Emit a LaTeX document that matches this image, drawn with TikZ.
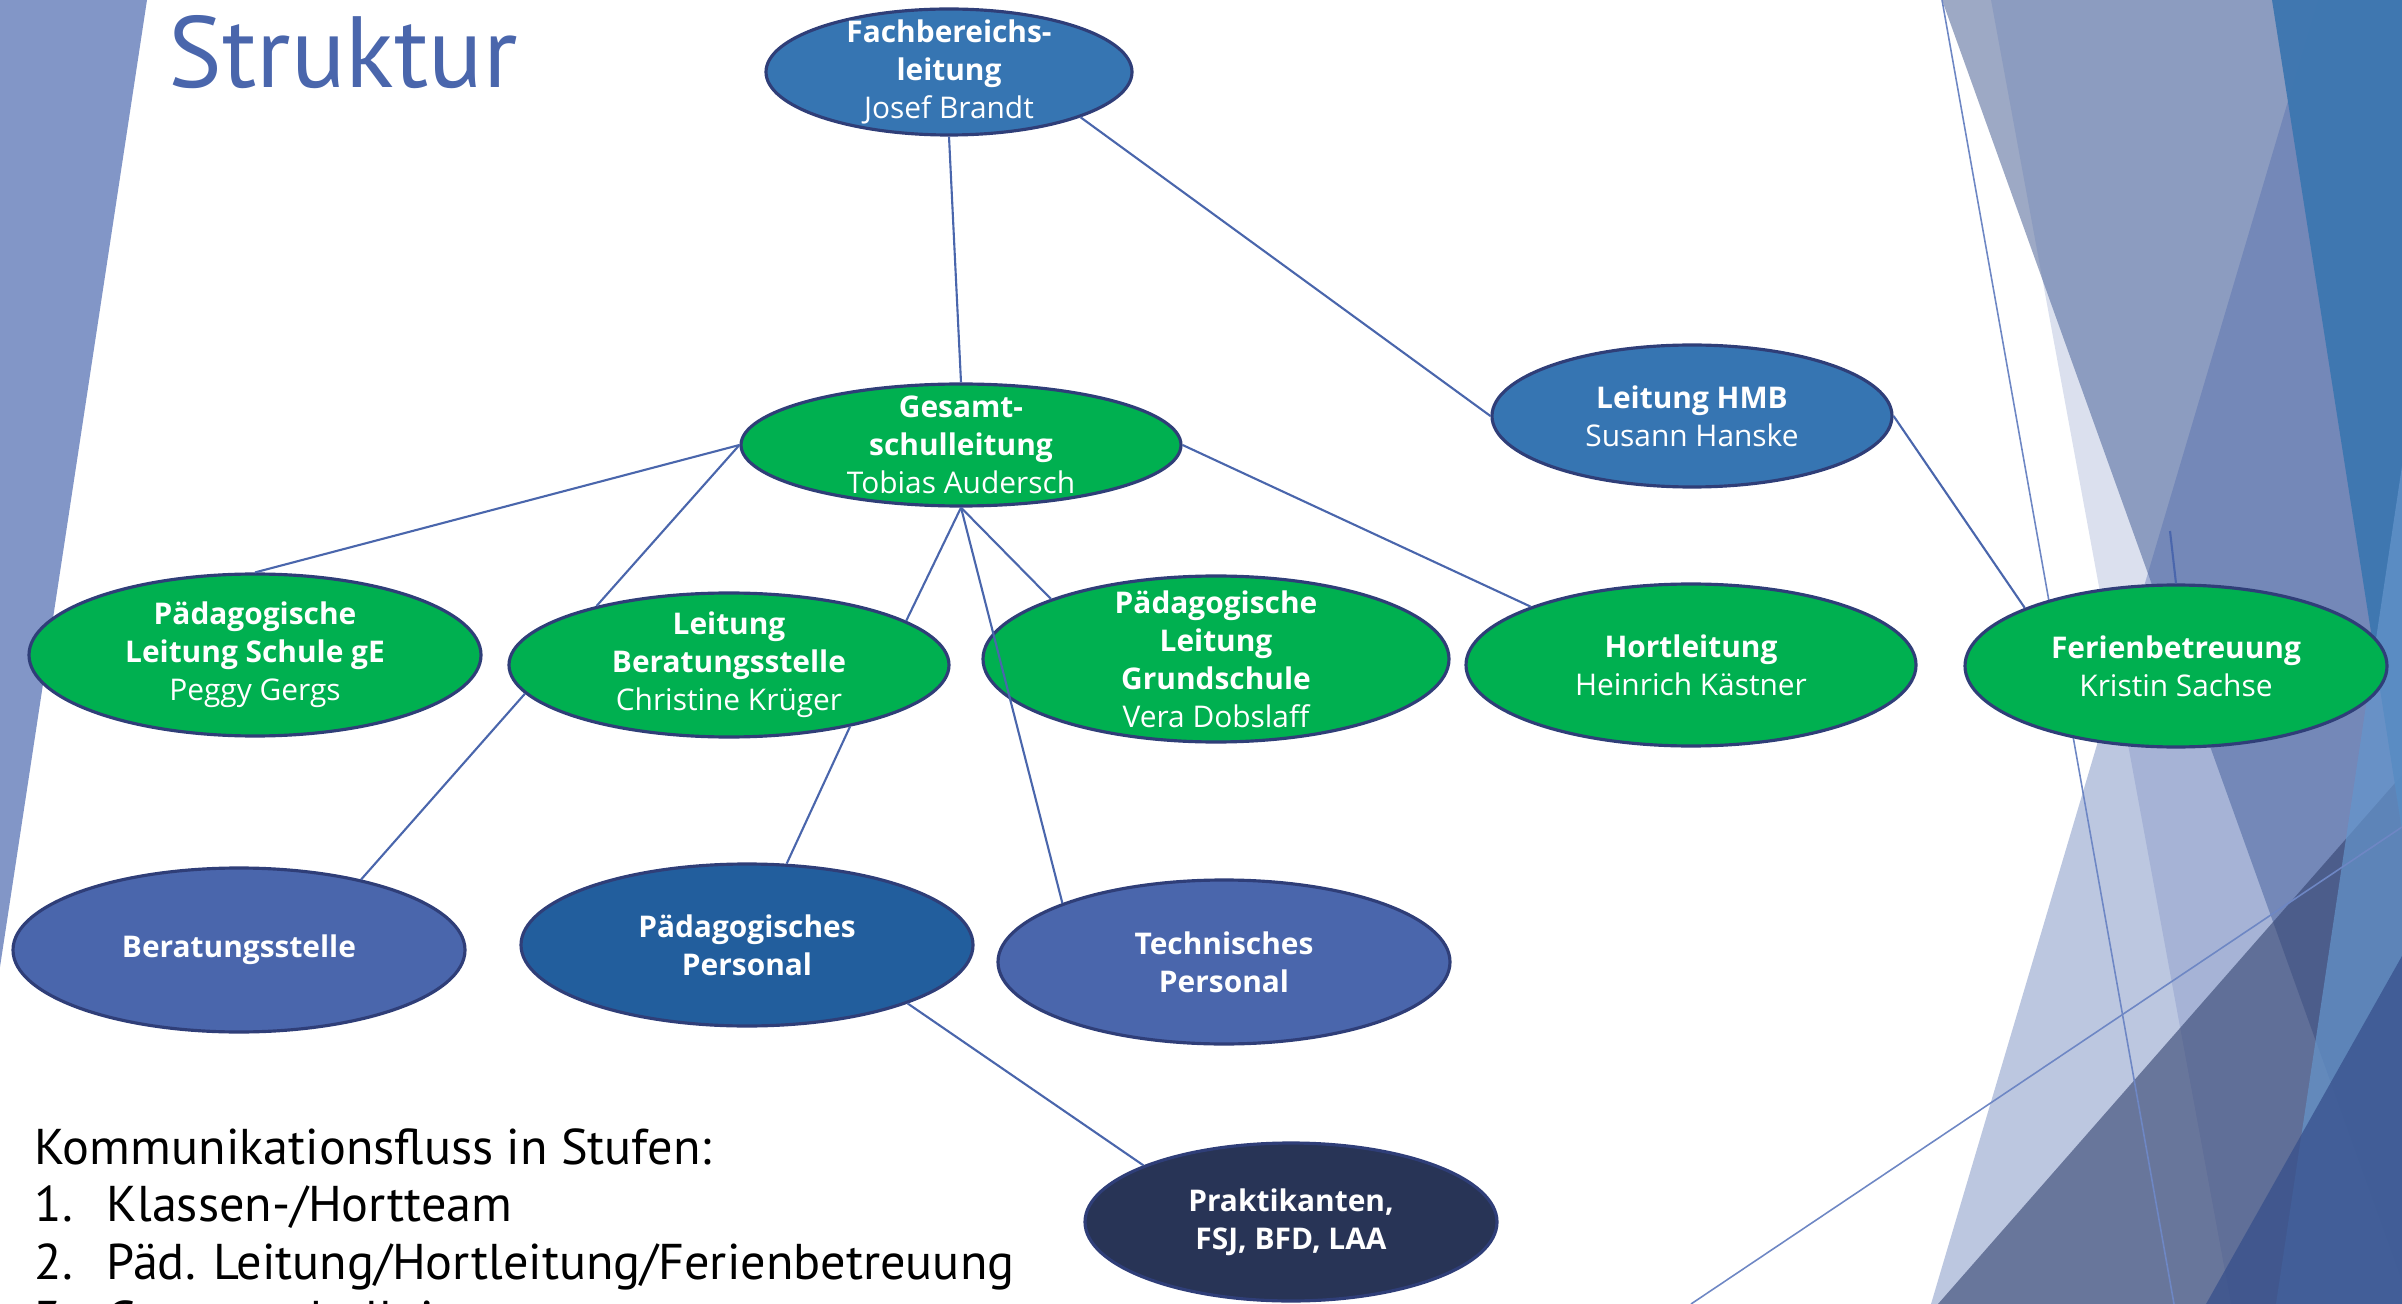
\documentclass[tikz,border=0pt]{standalone}
\usepackage{fontspec}
\setmainfont{Open Sans}
\newfontfamily\slidefont{PT Sans}
\usetikzlibrary{shapes.geometric,positioning}
\tikzset{>=stealth}

\definecolor{rim}{RGB}{47,62,120}
\definecolor{wire}{RGB}{74,102,172}
\definecolor{headblue}{RGB}{54,117,178}
\definecolor{leadgreen}{RGB}{0,176,80}
\definecolor{teamblue}{RGB}{74,102,172}
\definecolor{staffblue}{RGB}{34,94,157}
\definecolor{internnavy}{RGB}{40,52,86}
\definecolor{sidebar}{RGB}{130,150,199}
\definecolor{facetline}{RGB}{110,135,196}
\definecolor{facetgrey}{RGB}{92,112,158}
\definecolor{facetsteel}{RGB}{61,118,176}
\definecolor{facetlight}{RGB}{101,150,204}
\definecolor{facetdark}{RGB}{50,65,110}
\definecolor{facetdeep}{RGB}{55,80,140}

\tikzset{
  unit/.style={ellipse, draw=rim, line width=0.9pt, inner sep=0pt},
  head/.style={unit, fill=headblue},
  lead/.style={unit, fill=leadgreen},
  team/.style={unit, fill=teamblue},
  unittext/.style={text=white, align=center,
    font=\fontsize{8.5}{10.8}\selectfont},
  link/.style={draw=wire, line width=0.6pt},
  flowtext/.style={font=\slidefont\fontsize{14.3}{16}\selectfont, inner sep=0pt},
}

\begin{document}
\begin{tikzpicture}[x=0.1mm, y=-0.1mm]
  \useasboundingbox (0,0) rectangle (2402,1304);
  \clip (0,0) rectangle (2402,1304);

  % slide background
  \fill[sidebar] (0,0) -- (147,0) -- (0,967) -- cycle;
  \fill[facetgrey, fill opacity=0.6] (1942,0) -- (2402,0) -- (2402,1281) -- cycle;
  \fill[teamblue, fill opacity=0.2] (1991,0) -- (2402,0) -- (2402,1304) -- (2231,1304) -- cycle;
  \fill[teamblue, fill opacity=0.37] (2318,0) -- (2402,0) -- (2402,1304) -- (1931,1304) -- cycle;
  \fill[facetdark, fill opacity=0.6] (1938,1304) -- (2402,775) -- (2402,1304) -- cycle;
  \fill[facetsteel, fill opacity=0.95] (2272,0) -- (2402,0) -- (2402,830) -- cycle;
  \fill[facetlight, fill opacity=0.7] (2402,466) -- (2402,1304) -- (2276,1304) -- cycle;
  \fill[facetdeep, fill opacity=0.75] (2206,1304) -- (2402,956) -- (2402,1304) -- cycle;
  \draw[facetline, line width=0.45pt] (1942,0) -- (2174,1304);
  \draw[facetline, line width=0.45pt] (1691,1304) -- (2402,827);

  \node[anchor=base west, inner sep=0pt, text=teamblue,
    font=\slidefont\fontsize{28.8}{34}\selectfont] (title) at (168,88) {Struktur};

  % top
  \node[head, minimum width=36.6mm, minimum height=12.6mm,
    label={[unittext]center:{\textbf{Fachbereichs-}\\\textbf{leitung}\\Josef Brandt}}
  ] (fach) at (949,72) {};
  \node[lead, minimum width=44mm, minimum height=12.2mm,
    label={[unittext]center:{\textbf{Gesamt-}\\\textbf{schulleitung}\\Tobias Audersch}}
  ] (gesamt) at (961,445) {};
  \node[head, minimum width=40mm, minimum height=14.2mm,
    label={[unittext]center:{\textbf{Leitung HMB}\\Susann Hanske}}
  ] (hmb) at (1692,416) {};

  % leaders
  \node[lead, minimum width=45.2mm, minimum height=16.2mm,
    label={[unittext]center:{\textbf{Pädagogische}\\\textbf{Leitung Schule gE}\\Peggy Gergs}}
  ] (schule) at (255,655) {};
  \node[lead, minimum width=44mm, minimum height=14.4mm,
    label={[unittext]center:{\textbf{Leitung}\\\textbf{Beratungsstelle}\\Christine Krüger}}
  ] (beratleit) at (729,665) {};
  \node[lead, minimum width=46.6mm, minimum height=16.6mm,
    label={[unittext]center:{\textbf{Pädagogische}\\\textbf{Leitung}\\\textbf{Grundschule}\\Vera Dobslaff}}
  ] (grund) at (1216,659) {};
  \node[lead, minimum width=45mm, minimum height=16.2mm,
    label={[unittext]center:{\textbf{Hortleitung}\\Heinrich Kästner}}
  ] (hort) at (1691,665) {};
  \node[lead, minimum width=42.2mm, minimum height=16.2mm,
    label={[unittext]center:{\textbf{Ferienbetreuung}\\Kristin Sachse}}
  ] (ferien) at (2176,666) {};

  % staff
  \node[team, minimum width=45.2mm, minimum height=16.4mm,
    label={[unittext]center:{\textbf{Beratungsstelle}}}
  ] (beratung) at (239,950) {};
  \node[unit, fill=staffblue, minimum width=45.2mm, minimum height=16.2mm,
    label={[unittext]center:{\textbf{Pädagogisches}\\\textbf{Personal}}}
  ] (paedpers) at (747,945) {};
  \node[team, minimum width=45.2mm, minimum height=16.4mm,
    label={[unittext]center:{\textbf{Technisches}\\\textbf{Personal}}}
  ] (technik) at (1224,962) {};
  \node[unit, fill=internnavy, minimum width=41.2mm, minimum height=15.8mm,
    label={[unittext]center:{\textbf{Praktikanten,}\\\textbf{FSJ, BFD, LAA}}}
  ] (praktikum) at (1291,1222) {};

  \coordinate (stub) at (2170,531);

  \draw[link] (fach.south) -- (gesamt.north);
  \draw[link] (fach.-19) -- (hmb.west);
  \draw[link] (hmb.east) -- (ferien.159);
  \draw[link] (stub) -- (ferien.north);
  \draw[link] (gesamt.west) -- (schule.north);
  \draw[link] (gesamt.west) -- (beratleit.156);
  \draw[link] (gesamt.south) -- (beratleit.14);
  \draw[link] (gesamt.south) -- (grund.160);
  \draw[link] (gesamt.south) -- (technik.160);
  \draw[link] (gesamt.east) -- (hort.160);
  \draw[link] (beratleit.188) -- (beratung.30);
  \draw[link] (beratleit.333) -- (paedpers.64);
  \draw[link] (paedpers.-20) -- (praktikum.159);

  % stages
  \node[flowtext, anchor=base west] (flow) at (34,1164) {Kommunikationsfluss in Stufen:};
  \node[flowtext, below=5.75mm of flow.base west, anchor=base west] (stage1)
    {\makebox[7.2mm][l]{1.}Klassen-/Hortteam};
  \node[flowtext, below=5.75mm of stage1.base west, anchor=base west] (stage2)
    {\makebox[7.2mm][l]{2.}Päd. Leitung/Hortleitung/Ferienbetreuung};
  \node[flowtext, below=5.75mm of stage2.base west, anchor=base west] (stage3)
    {\makebox[7.2mm][l]{3.}Gesamtschulleitung};
\end{tikzpicture}
\end{document}
